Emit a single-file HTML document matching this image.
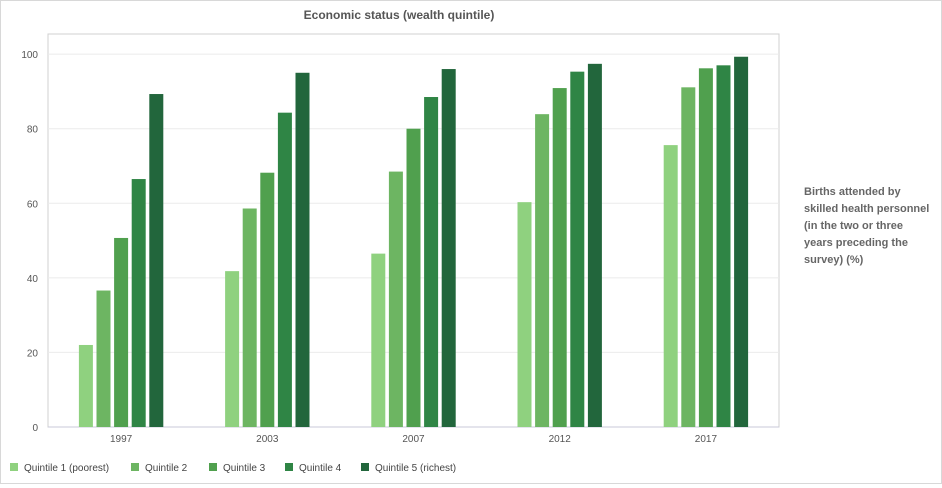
<!DOCTYPE html>
<html><head><meta charset="utf-8"><style>
body{margin:0;background:#fff;font-family:"Liberation Sans",sans-serif}
#wrap{position:relative;width:940px;height:482px;border:1px solid #d8d8d8;background:#fff}
</style></head><body>
<div id="wrap">
<svg id="c" width="940" height="482"></svg>
</div>
<script>
const categories=["1997","2003","2007","2012","2017"];
const seriesNames=["Quintile 1 (poorest)","Quintile 2","Quintile 3","Quintile 4","Quintile 5 (richest)"];
const q1=[22,41.8,46.5,60.3,75.6];
const q2=[36.6,58.6,68.5,83.9,91.1];
const q3=[50.7,68.2,80,90.9,96.2];
const q4=[66.5,84.3,88.5,95.3,97];
const q5=[89.3,95,96,97.4,99.3];
const yTicks=[0,20,40,60,80,100];
const series=[q1,q2,q3,q4,q5];
const colors=["#8fd17f","#6db562","#50a04e","#2f8545","#22663c"];
const NS="http://www.w3.org/2000/svg";
const svg=document.getElementById('c');
const L=47,R=778,T=33,B=426;
const y=v=>B-(v/105.4)*(B-T);
const gw=(R-L)/categories.length;
const xc=i=>L+gw*(i+0.5);
function mk(t,a,txt){const e=document.createElementNS(NS,t);for(const k in a)e.setAttribute(k,a[k]);if(txt!=null)e.textContent=txt;svg.appendChild(e);return e;}
let e=mk('rect',{x:L,y:T,width:R-L,height:B-T,fill:'none',stroke:'#d0d0d0'});


yTicks.forEach(t=>{
 if(t>0){let g=mk('line',{x1:L,x2:R,y1:y(t),y2:y(t),stroke:'#ebebeb'});
 
 }
 let l=mk('text',{x:37,y:y(t)+4,'text-anchor':'end','font-size':10,fill:'#555'},t);
 
 
});
let ax=mk('line',{x1:L,x2:R,y1:B,y2:B,stroke:'#c8c8d8'});


categories.forEach((c,i)=>{
 let l=mk('text',{x:xc(i),y:B+15,'text-anchor':'middle','font-size':10,fill:'#555'},c);
 
 
 series.forEach((s,j)=>{
  const bx=xc(i)+(j-2)*17.6-7;
  let r=mk('rect',{x:bx,y:y(s[i]),width:14,height:B-y(s[i]),fill:colors[j]});
  
  
 });
});
let t=mk('text',{x:398,y:18,'text-anchor':'middle','font-size':12,'font-weight':'bold',fill:'#555'},'Economic status (wealth quintile)');


["Births attended by","skilled health personnel","(in the two or three","years preceding the","survey) (%)"].forEach((s,i)=>{
 let a=mk('text',{x:803,y:194+i*17,'font-size':11,'font-weight':'bold',fill:'#666'},s);
 
 
});
const lx=[9,130,208,284,360];
seriesNames.forEach((n,j)=>{
 let r=mk('rect',{x:lx[j],y:462,width:8,height:8,fill:colors[j]});
 
 
 let tx=mk('text',{x:lx[j]+14,y:470,'font-size':10,fill:'#444'},n);
 
 
});
</script>
</body></html>
